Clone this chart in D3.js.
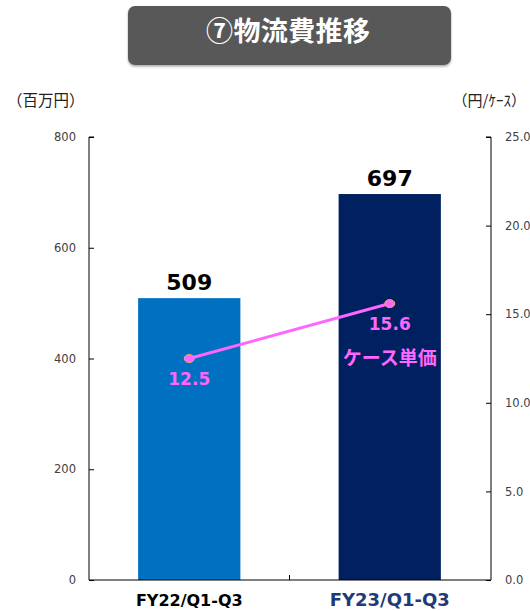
<!DOCTYPE html>
<html>
<head>
<meta charset="utf-8">
<script src="https://cdn.jsdelivr.net/npm/d3@7"></script>
<style>
  body { margin: 0; background: #fff; }
  svg text { font-family: "DejaVu Sans", Verdana, sans-serif; }
  .jp { font-family: "Noto Sans CJK JP", "DejaVu Sans", sans-serif; }
</style>
</head>
<body>
<div id="chart"></div>
<script>
// data
const periods = ['FY22/Q1-Q3', 'FY23/Q1-Q3']
const costs = [509, 697]          // 百万円
const unitPrice = [12.5, 15.6]    // 円/ケース
const leftTicks = [0, 200, 400, 600, 800]
const rightTicks = [0, 5, 10, 15, 20, 25]
const barColors = ['#0070C0', '#002060']

const width = 530, height = 611
const margin = {top: 137, right: 40, bottom: 31, left: 89}

const svg = d3.select('#chart').append('svg')
  .attr('width', width)
  .attr('height', height)

// title box
const defs = svg.append('defs')
const f = defs.append('filter').attr('id', 'sh').attr('x', '-5%').attr('y', '-10%').attr('width', '110%').attr('height', '130%')
f.append('feDropShadow').attr('dx', 0).attr('dy', 1.5).attr('stdDeviation', 1.2).attr('flood-color', '#000').attr('flood-opacity', 0.35)

svg.append('rect')
  .attr('x', 128).attr('y', 6).attr('width', 323).attr('height', 59)
  .attr('rx', 7)
  .attr('fill', '#595959')
  .attr('filter', 'url(#sh)')
svg.append('text')
  .attr('class', 'jp')
  .attr('x', 288).attr('y', 41)
  .attr('text-anchor', 'middle')
  .attr('fill', '#fff')
  .attr('font-weight', 'bold')
  .attr('font-size', 27)
  .attr('textLength', 164)
  .text('⑦物流費推移')

const x = d3.scaleBand()
  .domain(periods)
  .range([margin.left, width - margin.right])
  .paddingInner(0.49)
  .paddingOuter(0.245)

const y = d3.scaleLinear().domain([0, 800]).range([height - margin.bottom, margin.top])
const y2 = d3.scaleLinear().domain([0, 25]).range([height - margin.bottom, margin.top])

// unit labels
svg.append('text').attr('class', 'jp')
  .attr('x', 7).attr('y', 106).attr('font-size', 15.5).attr('fill', '#222')
  .text('（百万円）')
svg.append('text').attr('class', 'jp')
  .attr('x', 526).attr('y', 106).attr('font-size', 15)
  .attr('text-anchor', 'end').attr('fill', '#222')
  .text('（円/ｹｰｽ）')

// bars
svg.selectAll('.bar')
  .data(costs)
  .enter().append('rect')
  .attr('class', 'bar')
  .attr('x', (d, i) => x(periods[i]))
  .attr('y', d => y(d))
  .attr('width', x.bandwidth())
  .attr('height', d => y(0) - y(d))
  .attr('fill', (d, i) => barColors[i])

svg.selectAll('.val')
  .data(costs)
  .enter().append('text')
  .attr('x', (d, i) => x(periods[i]) + x.bandwidth() / 2)
  .attr('y', d => y(d) - 8)
  .attr('text-anchor', 'middle')
  .attr('font-weight', 'bold')
  .attr('font-size', 22)
  .attr('fill', '#000')
  .text(d => d)

// axes
const leftAxis = svg.append('g')
  .attr('transform', `translate(${margin.left},0)`)
  .call(d3.axisRight(y).tickValues(leftTicks).tickSize(5).tickFormat(d3.format('d')))
leftAxis.select('.domain').attr('d', `M5,${y(800)}H0V${y(0)}`).attr('stroke', '#000')
leftAxis.selectAll('.tick line').attr('stroke', '#000')
leftAxis.selectAll('.tick text')
  .attr('x', -13).attr('text-anchor', 'end')
  .attr('font-size', 11.5).attr('fill', '#404040')
  .style('font-family', '"DejaVu Sans", sans-serif')

const rightAxis = svg.append('g')
  .attr('transform', `translate(${width - margin.right + 1},0)`)
  .call(d3.axisLeft(y2).tickValues(rightTicks).tickSize(5).tickFormat(d3.format('.1f')))
rightAxis.select('.domain').attr('d', `M-5,${y2(25)}H0V${y2(0)}`).attr('stroke', '#000')
rightAxis.selectAll('.tick line').attr('stroke', '#000')
rightAxis.selectAll('.tick text')
  .attr('x', 14).attr('text-anchor', 'start')
  .attr('font-size', 11.5).attr('fill', '#404040')
  .style('font-family', '"DejaVu Sans", sans-serif')

// bottom axis line with middle tick
const bottom = svg.append('g').attr('transform', `translate(0,${y(0)})`)
bottom.append('line')
  .attr('x1', margin.left).attr('x2', width - margin.right + 1)
  .attr('stroke', '#000')
bottom.append('line')
  .attr('x1', (margin.left + width - margin.right) / 2).attr('x2', (margin.left + width - margin.right) / 2)
  .attr('y1', -5).attr('y2', 0)
  .attr('stroke', '#000')

// category labels
svg.selectAll('.cat')
  .data(periods)
  .enter().append('text')
  .attr('x', d => x(d) + x.bandwidth() / 2)
  .attr('y', 606)
  .attr('text-anchor', 'middle')
  .attr('font-weight', 'bold')
  .attr('font-size', (d, i) => i === 0 ? 16 : 18)
  .attr('fill', (d, i) => i === 0 ? '#000' : '#1F3A78')
  .text(d => d)

// unit price line
const pts = unitPrice.map((v, i) => [x(periods[i]) + x.bandwidth() / 2, y2(v)])
svg.append('path')
  .attr('d', d3.line()(pts))
  .attr('stroke', '#FF66FF')
  .attr('stroke-width', 3)
  .attr('fill', 'none')
svg.selectAll('.dot')
  .data(pts)
  .enter().append('ellipse')
  .attr('cx', d => d[0]).attr('cy', d => d[1])
  .attr('rx', 5).attr('ry', 4)
  .attr('fill', '#FF66FF')
  .attr('stroke', '#F4A070')
  .attr('stroke-width', 1)

svg.selectAll('.uval')
  .data(unitPrice)
  .enter().append('text')
  .attr('x', (d, i) => pts[i][0])
  .attr('y', (d, i) => pts[i][1] + 26)
  .attr('text-anchor', 'middle')
  .attr('font-weight', 'bold')
  .attr('font-size', 17)
  .attr('fill', '#FF66FF')
  .text(d => d.toFixed(1))

svg.append('text').attr('class', 'jp')
  .attr('x', pts[1][0]).attr('y', 365)
  .attr('text-anchor', 'middle')
  .attr('font-weight', 'bold')
  .attr('font-size', 19)
  .attr('fill', '#FF66FF')
  .text('ケース単価')
</script>
</body>
</html>
